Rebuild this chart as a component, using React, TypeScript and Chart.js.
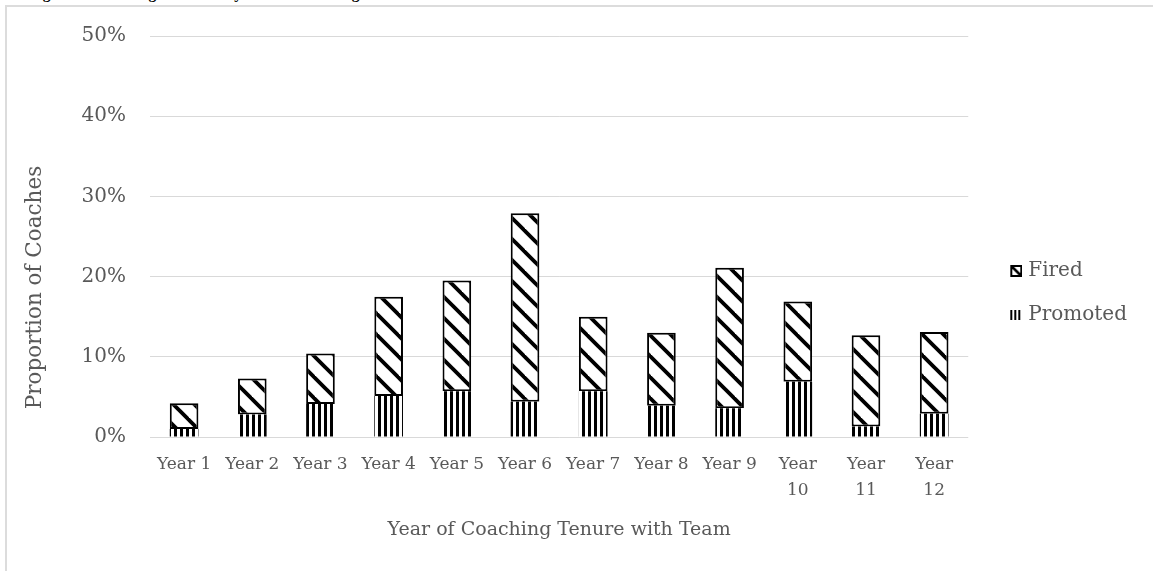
import React, { useEffect, useRef } from 'react';
import { Chart, registerables } from 'chart.js';

Chart.register(...registerables);

const categories: (string | string[])[] = [
  'Year 1', 'Year 2', 'Year 3', 'Year 4', 'Year 5', 'Year 6',
  'Year 7', 'Year 8', 'Year 9', ['Year', '10'], ['Year', '11'], ['Year', '12'],
];
const promoted = [1.0, 2.8, 4.1, 5.1, 5.7, 4.4, 5.7, 3.9, 3.6, 6.9, 1.3, 2.9];
const fired = [3.2, 4.5, 6.3, 12.4, 13.8, 23.5, 9.3, 9.1, 17.5, 10.0, 11.4, 10.2];
const yMax = 50;
const yStep = 10;

const SERIF = '"DejaVu Serif", serif';
const GRAY = '#595959';

function firedPattern(ctx: CanvasRenderingContext2D) {
  const P = 21;
  const c = document.createElement('canvas');
  c.width = P; c.height = P;
  const g = c.getContext('2d')!;
  g.fillStyle = '#fff';
  g.fillRect(0, 0, P, P);
  g.strokeStyle = '#000';
  g.lineWidth = 3.8;
  for (const k of [-P, 0, P]) {
    g.beginPath();
    g.moveTo(k - 2, -2);
    g.lineTo(k + P + 2, P + 2);
    g.stroke();
  }
  return ctx.createPattern(c, 'repeat')!;
}

function promotedPattern(ctx: CanvasRenderingContext2D) {
  const c = document.createElement('canvas');
  c.width = 6; c.height = 6;
  const g = c.getContext('2d')!;
  g.fillStyle = '#fff';
  g.fillRect(0, 0, 6, 6);
  g.fillStyle = '#000';
  g.fillRect(0, 0, 3, 6);
  return ctx.createPattern(c, 'repeat')!;
}

function firedSwatch() {
  const c = document.createElement('canvas');
  c.width = 34; c.height = 12;
  const g = c.getContext('2d')!;
  g.fillStyle = '#000';
  g.fillRect(22, 0, 12, 12);
  g.fillStyle = '#fff';
  g.fillRect(24, 2, 8, 8);
  g.strokeStyle = '#000';
  g.lineWidth = 2.5;
  g.beginPath();
  g.moveTo(23, 1);
  g.lineTo(33, 11);
  g.stroke();
  return c;
}

function promotedSwatch() {
  const c = document.createElement('canvas');
  c.width = 34; c.height = 12;
  const g = c.getContext('2d')!;
  g.fillStyle = '#000';
  g.fillRect(22, 1, 2, 10);
  g.fillRect(26, 1, 2, 10);
  g.fillRect(30, 1, 2, 10);
  return c;
}

const yTitlePlugin = {
  id: 'yTitleCustom',
  afterDraw(chart: any) {
    const { ctx, chartArea } = chart;
    const xs = chart.scales.x;
    const ys = chart.scales.y;
    ctx.save();
    ctx.font = `21.5px ${SERIF}`;
    ctx.fillStyle = GRAY;
    ctx.textAlign = 'center';
    ctx.textBaseline = 'middle';
    ctx.translate(ys.left + 21, (chartArea.top + xs.bottom) / 2 - 6);
    ctx.rotate(-Math.PI / 2);
    ctx.fillText('Proportion of Coaches', 0, 0);
    ctx.restore();
  },
};

export default function App() {
  const ref = useRef<HTMLCanvasElement>(null);

  useEffect(() => {
    const canvas = ref.current!;
    const ctx = canvas.getContext('2d')!;
    const fImg = firedSwatch();
    const pImg = promotedSwatch();
    const chart = new Chart(canvas, {
      type: 'bar',
      data: {
        labels: categories as any,
        datasets: [
          {
            label: 'Promoted',
            data: promoted,
            backgroundColor: promotedPattern(ctx),
            borderWidth: 0,
            barPercentage: 0.42,
            categoryPercentage: 1,
          },
          {
            label: 'Fired',
            data: fired,
            backgroundColor: firedPattern(ctx),
            borderColor: '#000',
            borderWidth: 2,
            borderSkipped: false,
            barPercentage: 0.42,
            categoryPercentage: 1,
          },
        ],
      },
      options: {
        responsive: false,
        animation: false,
        devicePixelRatio: 1,
        layout: { padding: { left: 14, top: 35, bottom: 20, right: 16 } },
        plugins: {
          tooltip: { enabled: false },
          legend: {
            position: 'right',
            labels: {
              usePointStyle: true,
              pointStyleWidth: 26,
              boxWidth: 26,
              boxHeight: 12,
              padding: 24,
              color: GRAY,
              font: { family: SERIF, size: 20 },
              generateLabels: () => [
                { text: 'Fired', pointStyle: fImg as any, datasetIndex: 1, fillStyle: '#000', strokeStyle: '#000', lineWidth: 0, hidden: false, fontColor: GRAY } as any,
                { text: 'Promoted', pointStyle: pImg as any, datasetIndex: 0, fillStyle: '#000', strokeStyle: '#000', lineWidth: 0, hidden: false, fontColor: GRAY } as any,
              ],
            },
          },
        },
        scales: {
          x: {
            stacked: true,
            grid: { display: false, drawTicks: false, tickLength: 0 },
            border: { display: false },
            ticks: {
              color: GRAY,
              font: { family: SERIF, size: 17, lineHeight: 1.5 },
              padding: 15,
              maxRotation: 0,
              minRotation: 0,
              autoSkip: false,
            },
            title: {
              display: true,
              text: 'Year of Coaching Tenure with Team',
              color: GRAY,
              font: { family: SERIF, size: 19 },
              padding: { top: 0, bottom: 10 },
            },
            afterFit: (s: any) => { s.height = 114; },
          },
          y: {
            stacked: true,
            min: 0,
            max: yMax,
            grid: { color: '#d9d9d9', lineWidth: 1, drawTicks: false, tickLength: 0 },
            border: { display: false },
            ticks: {
              stepSize: yStep,
              color: GRAY,
              font: { family: SERIF, size: 20 },
              padding: 24,
              callback: (v: any) => `${v}%`,
            },
            afterFit: (s: any) => { s.width = 136; },
          },
        },
      },
      plugins: [yTitlePlugin],
    });
    return () => chart.destroy();
  }, []);

  return (
    <div style={{ position: 'absolute', left: 0, top: 0, width: 1153, height: 571, overflow: 'hidden', background: '#fff' }}>
      <div
        style={{
          position: 'absolute', left: 29, top: -14.5, whiteSpace: 'nowrap',
          fontFamily: '"Liberation Serif", serif', fontWeight: 'bold', fontSize: 15.5, lineHeight: 1, color: '#000',
        }}
      >
        Figure 2: Coaching Turnover by Year of Coaching Tenure
      </div>
      <div
        style={{
          position: 'absolute', left: 5, top: 5, width: 1148, height: 566,
          borderTop: '2px solid #dcdcdc', borderLeft: '2px solid #dcdcdc', boxSizing: 'border-box',
        }}
      />
      <canvas ref={ref} width={1153} height={571} style={{ position: 'absolute', left: 0, top: 0 }} />
    </div>
  );
}
